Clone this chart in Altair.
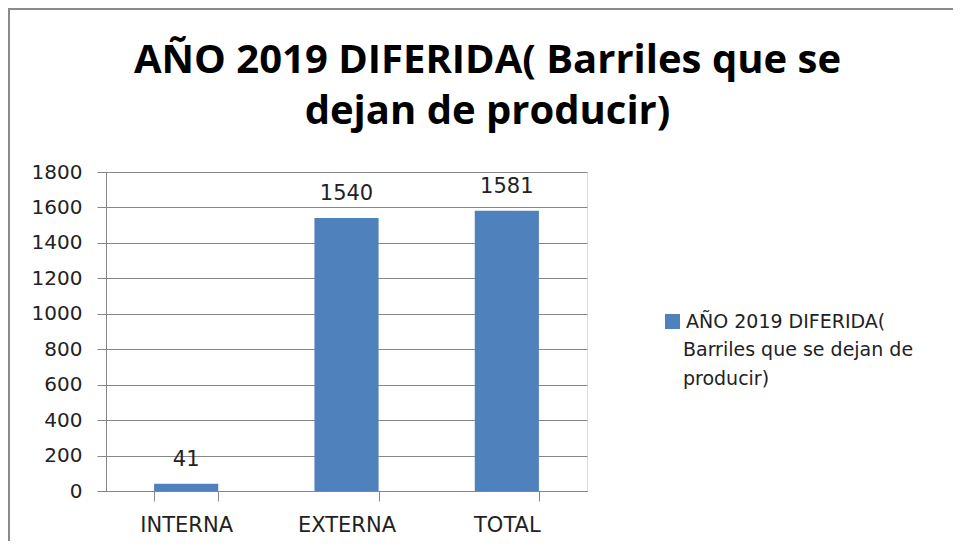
import altair as alt
import pandas as pd

categories = ["INTERNA", "EXTERNA", "TOTAL"]
values = [41, 1540, 1581]
series_name = "AÑO 2019 DIFERIDA("
legend_more = ["Barriles que se dejan de", "producir)"]
title_lines = ["AÑO 2019 DIFERIDA( Barriles que se", "dejan de producir)"]
y_ticks = [0, 200, 400, 600, 800, 1000, 1200, 1400, 1600, 1800]

df = pd.DataFrame({"cat": categories, "val": values, "serie": [series_name] * 3})

W, H = 481, 319
PAD = {"left": 98, "top": 164, "right": 366, "bottom": 50}
BAR = "#4F81BD"
GRID = "#868686"
FONT = "DejaVu Sans"
TXT = "#222222"
INDENT = "\u2800\u00a0"

base = alt.Chart(df).encode(
    x=alt.X("cat:N", sort=categories, title=None,
            scale=alt.Scale(paddingInner=0.6, paddingOuter=0.3),
            axis=alt.Axis(labelAngle=0, tickBand="extent", tickSize=10, labelPadding=13,
                          domainColor=GRID, tickColor=GRID, labelFont=FONT, labelFontSize=21,
                          labelColor=TXT, grid=False)),
    y=alt.Y("val:Q", title=None,
            scale=alt.Scale(domain=[0, 1800], nice=False),
            axis=alt.Axis(values=y_ticks, format="d", labelOverlap=False, tickSize=9,
                          labelPadding=15, domainColor=GRID, tickColor=GRID, gridColor=GRID,
                          labelFont=FONT, labelFontSize=20, labelColor=TXT)),
)

bars = base.mark_bar(color=BAR).encode(
    color=alt.Color("serie:N", scale=alt.Scale(range=[BAR]),
                    legend=alt.Legend(title=[INDENT + s for s in legend_more],
                                      titleOrient="bottom", titleFont=FONT, titleFontSize=19,
                                      titleFontWeight="normal", titleColor=TXT, titleLineHeight=29,
                                      titlePadding=9, titleLimit=0,
                                      orient="none", legendX=557, legendY=140,
                                      symbolType="square", symbolSize=225, symbolStrokeWidth=0,
                                      labelFont=FONT, labelFontSize=19, labelColor=TXT,
                                      labelLimit=0, padding=0)),
)

labels = base.mark_text(baseline="alphabetic", dy=-18, font=FONT, fontSize=21, color=TXT).encode(
    text="val:Q",
)

frame = alt.Chart(alt.Data(values=[{}])).mark_rect(fillOpacity=0, stroke="#8a8a8a", strokeWidth=2).encode(
    x=alt.value(-97), x2=alt.value(2000), y=alt.value(-163), y2=alt.value(2000)
)

chart = alt.layer(frame, bars, labels).properties(
    width=W, height=H,
    padding=PAD,
    autosize=alt.AutoSizeParams(type="none"),
    title=alt.Title(title_lines, font="Open Sans", fontSize=40, fontWeight="bold", color="#000000",
                    lineHeight=51, anchor="middle", dx=141, offset=-124),
).configure_view(stroke=None).configure(background="white")

chart.save("out.html", embed_options={"renderer": "svg", "actions": False})
